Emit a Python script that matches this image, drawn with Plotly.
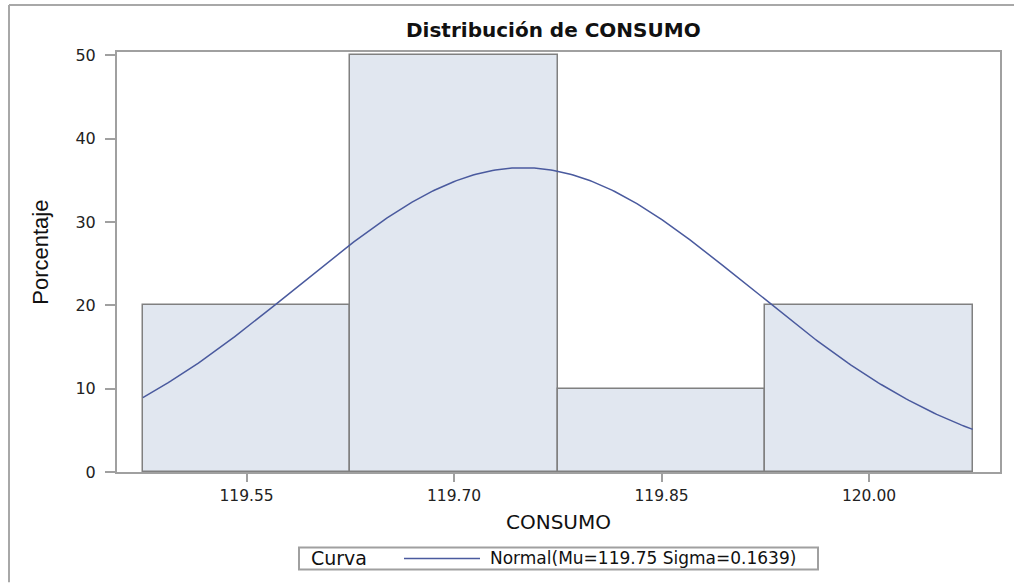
import numpy as np
import plotly.graph_objects as go

# Data
bin_centers = [119.55, 119.70, 119.85, 120.00]
percentages = [20, 50, 10, 20]
bin_width = 0.15
mu = 119.75
sigma = 0.1639
x_ticks = [119.55, 119.70, 119.85, 120.00]
x_tick_labels = ["119.55", "119.70", "119.85", "120.00"]
y_ticks = [0, 10, 20, 30, 40, 50]
legend_title = "Curva"
curve_name = "Normal(Mu=119.75 Sigma=0.1639)"

# Normal curve scaled to percentage per bin
x_lo = bin_centers[0] - bin_width / 2
x_hi = bin_centers[-1] + bin_width / 2
xc = np.linspace(x_lo, x_hi, 300)
yc = 100 * bin_width / (sigma * np.sqrt(2 * np.pi)) * np.exp(-0.5 * ((xc - mu) / sigma) ** 2)

# Layout geometry (pixels)
W, H = 1014, 583
L, R, T, B = 117, 1000, 52, 472.5
PW, PH = R - L, B - T


def px(xp):
    return (xp - L) / PW


def py(yp):
    return (B - yp) / PH


curve_color = "#4a5a9e"
axis_color = "#a0a0a0"
font_main = "DejaVu Sans, Verdana, sans-serif"

fig = go.Figure()
fig.add_trace(go.Bar(
    x=bin_centers, y=percentages, width=bin_width,
    marker=dict(color="#e1e7f0", line=dict(color="#808080", width=1.5)),
    showlegend=False, hoverinfo="skip",
))
fig.add_trace(go.Scatter(
    x=xc, y=yc, mode="lines",
    line=dict(color=curve_color, width=1.5),
    name=curve_name, showlegend=False,
))

fig.update_layout(
    width=W, height=H,
    margin=dict(l=L, r=W - R, t=T, b=H - B, autoexpand=False),
    paper_bgcolor="white", plot_bgcolor="white",
    font=dict(family=font_main, size=16, color="#222"),
    bargap=0,
    showlegend=False,
    xaxis=dict(
        range=[119.4563, 120.0947], tickvals=x_ticks, ticktext=x_tick_labels,
        showgrid=False, zeroline=False,
        showline=True, linecolor=axis_color, linewidth=2, mirror=True,
        ticks="outside", ticklen=8, tickcolor=axis_color, tickwidth=1.5,
        tickfont=dict(size=15.5, color="#222"),
    ),
    yaxis=dict(
        range=[0, 50.4], tickvals=y_ticks,
        showgrid=False, zeroline=False,
        showline=True, linecolor=axis_color, linewidth=2, mirror=True,
        ticks="outside", ticklen=10, tickcolor=axis_color, tickwidth=1.5,
        ticklabelstandoff=6,
        tickfont=dict(size=16, color="#222"),
    ),
)

annotations = [
    # title
    dict(text="<b>Distribución de CONSUMO</b>", x=px(553), y=py(30),
         font=dict(size=20, color="#111", family=font_main)),
    # x axis title
    dict(text="CONSUMO", x=px(558.5), y=py(523),
         font=dict(size=20, color="#111", family=font_main)),
    # y axis title
    dict(text="Porcentaje", x=px(41), y=py(253), textangle=-90,
         font=dict(size=22, color="#111", family="Liberation Sans, Arial, sans-serif")),
    # legend texts
    dict(text=legend_title, x=px(309), y=py(559), xanchor="left",
         font=dict(size=19, color="#111", family=font_main)),
    dict(text=curve_name, x=px(488), y=py(559), xanchor="left",
         font=dict(size=17, color="#111", family=font_main)),
]
for a in annotations:
    a.setdefault("xanchor", "center")
    a.update(xref="paper", yref="paper", yanchor="middle", showarrow=False)
fig.update_layout(annotations=annotations)

shapes = [
    # outer frame (left and top)
    dict(type="line", x0=px(9), x1=px(9), y0=py(583), y1=py(5),
         line=dict(color="#a8a8a8", width=2)),
    dict(type="line", x0=px(9), x1=px(W), y0=py(5), y1=py(5),
         line=dict(color="#a8a8a8", width=2)),
    # legend box
    dict(type="rect", x0=px(299), x1=px(818), y0=py(570), y1=py(548),
         line=dict(color="#a0a0a0", width=2), fillcolor="white"),
    # legend line sample
    dict(type="line", x0=px(404), x1=px(480), y0=py(559), y1=py(559),
         line=dict(color=curve_color, width=1.5)),
]
for s in shapes:
    s.update(xref="paper", yref="paper")
fig.update_layout(shapes=shapes)

fig.write_html(
    "out.html",
    config={"displayModeBar": False},
    post_script="document.body.style.margin='0';document.body.style.overflow='hidden';",
)
